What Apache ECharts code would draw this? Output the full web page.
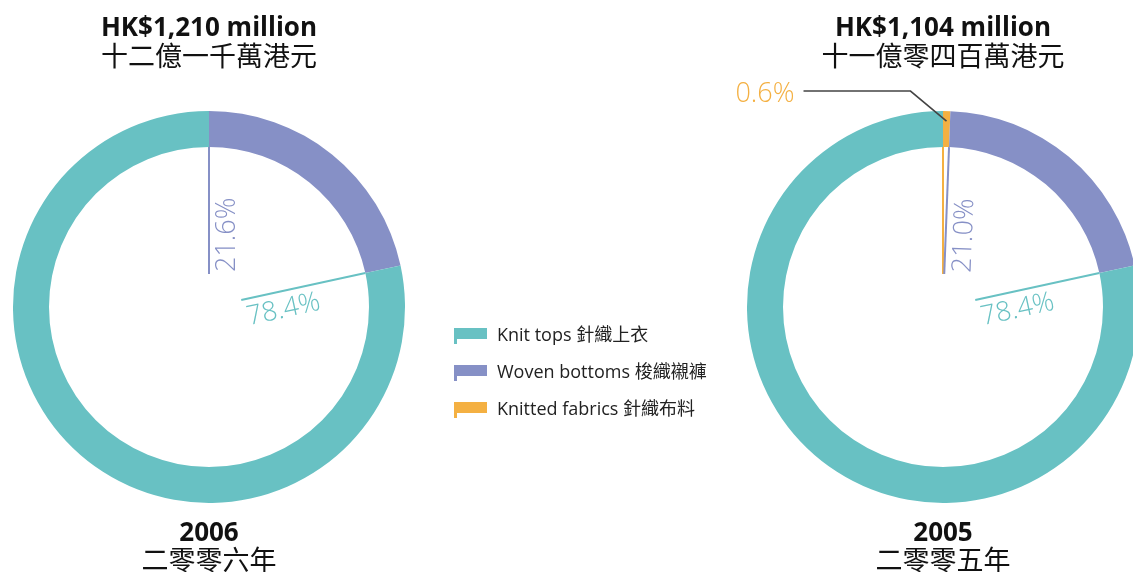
<!DOCTYPE html>
<html>
<head>
<meta charset="utf-8">
<script src="https://cdn.jsdelivr.net/npm/echarts@6/dist/echarts.min.js"></script>
<style>
html,body{margin:0;padding:0;background:#fff;}
#chart{width:1133px;height:572px;}
</style>
</head>
<body>
<div id="chart"></div>
<script>
// ---- data ----
const categories = ['Knit tops 針織上衣', 'Woven bottoms 梭織襯褲', 'Knitted fabrics 針織布料'];
const colors = ['#68C1C3', '#8690C6', '#F4B042'];
// slice order clockwise from 12 o'clock
const order2006 = ['Woven bottoms 梭織襯褲', 'Knit tops 針織上衣'];
const values2006 = [21.6, 78.4];
const order2005 = ['Knitted fabrics 針織布料', 'Woven bottoms 梭織襯褲', 'Knit tops 針織上衣'];
const values2005 = [0.6, 21.0, 78.4];
const totals = ['HK$1,210 million', 'HK$1,104 million'];
const totalsZh = ['十二億一千萬港元', '十一億零四百萬港元'];
const years = ['2006', '2005'];
const yearsZh = ['二零零六年', '二零零五年'];

// ---- layout ----
const FONT = "'Open Sans', 'Noto Sans CJK TC', sans-serif";
const R_OUT = 196, R_IN = 160;
const pies = [
  { cx: 209, cy: 307, names: order2006, values: values2006 },
  { cx: 943, cy: 307, names: order2005, values: values2005 }
];
const colorOf = n => colors[categories.indexOf(n)];

function pt(cx, cy, r, deg) {
  const a = deg * Math.PI / 180;
  return [cx + r * Math.sin(a), cy - r * Math.cos(a)];
}

const graphics = [];
pies.forEach(p => {
  const sum = p.values.reduce((a, b) => a + b, 0);
  let acc = 0;
  p.values.forEach((v, i) => {
    const start = acc / sum * 360;
    const mid = (acc + v / 2) / sum * 360;
    acc += v;
    const col = colorOf(p.names[i]);
    const p1 = pt(p.cx, p.cy, 33, start);
    const p2 = pt(p.cx, p.cy, R_IN, start);
    graphics.push({
      type: 'line', silent: true, z: 10,
      shape: { x1: p1[0], y1: p1[1], x2: p2[0], y2: p2[1] },
      style: { stroke: col, lineWidth: 2 }
    });
    const label = v.toFixed(1) + '%';
    if (v < 5) {
      const s = pt(p.cx, p.cy, R_OUT - 10, mid);
      const e = [s[0] - 36, s[1] - 30];
      const f = [e[0] - 107, e[1]];
      graphics.push({
        type: 'polyline', silent: true, z: 10,
        shape: { points: [s, e, f] },
        style: { stroke: '#444', lineWidth: 1.6, fill: null }
      });
      graphics.push({
        type: 'text', silent: true, z: 10,
        x: f[0] - 9, y: f[1] + 3,
        style: { text: label, fill: col, font: '300 27px ' + FONT, align: 'right', verticalAlign: 'middle' }
      });
    } else {
      // text along the start boundary, on the clockwise side
      const base = pt(p.cx, p.cy, 35, start);
      const rot = (90 - start) * Math.PI / 180;
      const a = start * Math.PI / 180;
      const perp = [Math.cos(a), Math.sin(a)];
      const off = 5;
      graphics.push({
        type: 'text', silent: true, z: 10,
        x: base[0] + perp[0] * off, y: base[1] + perp[1] * off,
        rotation: rot,
        style: { text: label, fill: col, font: '300 27px ' + FONT, align: 'left', verticalAlign: 'top' }
      });
    }
  });
});

const titles = [];
pies.forEach((p, i) => {
  titles.push({
    text: totals[i], subtext: totalsZh[i],
    left: p.cx, top: 14, textAlign: 'center', padding: 0, itemGap: 0,
    textStyle: { fontFamily: FONT, fontSize: 26, fontWeight: 'bold', color: '#111', lineHeight: 30 },
    subtextStyle: { fontFamily: FONT, fontSize: 27, color: '#111', lineHeight: 28 }
  });
  titles.push({
    text: years[i], subtext: yearsZh[i],
    left: p.cx, top: 519, textAlign: 'center', padding: 0, itemGap: 0,
    textStyle: { fontFamily: FONT, fontSize: 26, fontWeight: 'bold', color: '#111', lineHeight: 30 },
    subtextStyle: { fontFamily: FONT, fontSize: 27, color: '#111', lineHeight: 26 }
  });
});

const series = pies.map(p => ({
  type: 'pie',
  center: [p.cx, p.cy],
  radius: [R_IN, R_OUT],
  startAngle: 90,
  clockwise: true,
  silent: true,
  avoidLabelOverlap: false,
  label: { show: false },
  labelLine: { show: false },
  emphasis: { disabled: true },
  itemStyle: { borderWidth: 0 },
  data: p.names.map((n, i) => ({ name: n, value: p.values[i], itemStyle: { color: colorOf(n) } }))
}));

const chart = echarts.init(document.getElementById('chart'), null, { renderer: 'canvas' });
chart.setOption({
  animation: false,
  backgroundColor: '#fff',
  title: titles,
  legend: {
    orient: 'vertical',
    left: 454, top: 327,
    padding: 0,
    data: categories,
    icon: 'path://M0,0H33V11H3V16H0Z',
    itemWidth: 33, itemHeight: 16,
    itemGap: 19,
    selectedMode: false,
    textStyle: { fontFamily: FONT, fontSize: 18, color: '#222', padding: [0, 0, 4, 5] }
  },
  series: series,
  graphic: graphics
});
</script>
</body>
</html>
